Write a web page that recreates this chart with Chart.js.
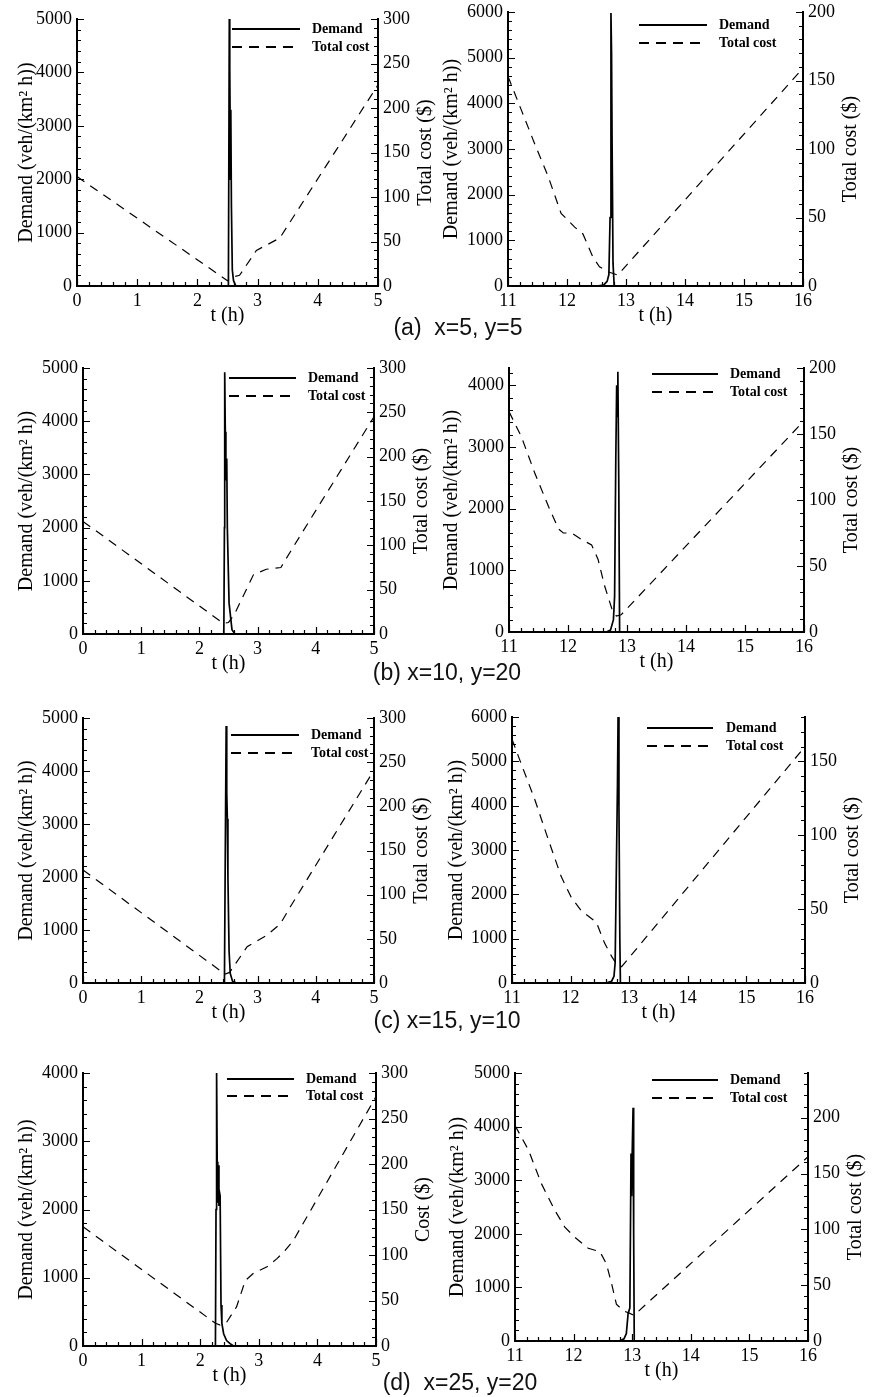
<!DOCTYPE html>
<html lang="en">
<head>
<meta charset="UTF-8">
<title>Demand and total cost</title>
<script src="https://cdn.jsdelivr.net/npm/chart.js"></script>
<style>
    body { margin: 0; background: #fff; }
    #page { position: relative; width: 875px; height: 1397px; overflow: hidden; background: #fff; }
    #page canvas { position: absolute; }
    .caption {
        position: absolute;
        font-family: "Liberation Sans", Arial, sans-serif;
        font-size: 23px;
        color: #111;
        white-space: pre;
        transform: translate(-50%, -50%);
    }
</style>
</head>
<body>
<div id="page"></div>
<script>
// [t (h), value] pairs; demand in veh/(km^2 h), cost in $
const demandA1 = [[0,0],[2.515,0],[2.53,5000],[2.535,3000],[2.54,4100],[2.55,2000],[2.555,3300],[2.565,1500],[2.58,300],[2.6,100],[2.64,0],[5,0]];
const costA1   = [[0,123],[2.5,6],[2.58,10],[2.7,12],[2.98,40],[3.15,46],[3.37,54],[5,226]];

const demandA2 = [[11,0],[12.5,0],[12.62,20],[12.68,100],[12.71,250],[12.73,1500],[12.745,5980],[12.755,5100],[12.765,3000],[12.78,500],[12.8,0],[16,0]];
const costA2   = [[11,153],[11.23,128],[11.45,104],[11.68,80],[11.9,53],[12.13,43],[12.27,38],[12.44,21],[12.55,14],[12.72,10],[12.86,8],[16,159]];

const demandB1 = [[0,0],[2.42,0],[2.43,2000],[2.435,4920],[2.445,3800],[2.455,3300],[2.46,2900],[2.47,3300],[2.48,2000],[2.51,580],[2.56,80],[2.61,0],[5,0]];
const costB1   = [[0,127],[2.41,12],[2.5,13],[2.6,22],[2.93,67],[3.15,73],[3.4,75],[3.62,99],[5,245]];

const demandB2 = [[11,0],[12.65,0],[12.72,30],[12.77,200],[12.79,580],[12.81,2800],[12.825,4000],[12.835,3500],[12.845,4220],[12.86,2500],[12.875,0],[16,0]];
const costB2   = [[11,167],[11.21,148],[11.44,120],[11.67,95],[11.84,78],[11.92,75],[12.06,75],[12.23,70],[12.4,66],[12.51,55],[12.62,35],[12.74,18],[12.82,12],[12.9,13],[16,160]];

const demandC1 = [[0,0],[2.43,0],[2.445,2500],[2.46,4850],[2.47,3600],[2.48,3100],[2.49,2000],[2.51,600],[2.53,180],[2.57,30],[2.64,0],[5,0]];
const costC1   = [[0,128],[2.44,10],[2.52,12],[2.56,16],[2.82,41],[3.16,54],[3.39,67],[3.56,86],[5,241]];

const demandC2 = [[11,0],[12.6,0],[12.7,40],[12.74,150],[12.76,450],[12.78,2500],[12.8,4500],[12.81,6000],[12.825,4000],[12.84,1000],[12.85,0],[16,0]];
const costC2   = [[11,165],[11.16,148],[11.39,124],[11.62,97],[11.84,72],[12.01,58],[12.18,49],[12.44,41],[12.58,27],[12.7,18],[12.78,13],[12.87,11],[16,160]];

const demandD1 = [[0,0],[2.26,0],[2.27,2000],[2.28,4000],[2.29,2700],[2.3,2100],[2.31,2650],[2.32,2050],[2.33,2250],[2.34,2200],[2.355,600],[2.37,330],[2.4,180],[2.45,80],[2.51,35],[2.57,0],[5,0]];
const costD1   = [[0,131],[2.26,25],[2.34,23],[2.45,26],[2.62,43],[2.77,72],[2.91,80],[3.14,87],[3.31,96],[3.45,105],[3.59,116],[5,274]];

const demandD2 = [[11,0],[12.78,0],[12.86,40],[12.9,140],[12.93,510],[12.96,620],[12.98,3500],[12.99,2700],[13.0,3500],[13.015,4350],[13.025,2000],[13.035,0],[16,0]];
const costD2   = [[11,193],[11.23,171],[11.45,141],[11.68,117],[11.85,102],[12.02,93],[12.25,83],[12.45,80],[12.56,69],[12.65,51],[12.73,33],[12.85,27],[12.95,25],[13.03,23],[16,165]];

// tick values (labels are these numbers as written)
const timeTicksEarly = [0, 1, 2, 3, 4, 5];
const timeTicksLate  = [11, 12, 13, 14, 15, 16];
const demandTicks    = [0, 1000, 2000, 3000, 4000, 5000, 6000];
const costTicks      = [0, 50, 100, 150, 200, 250, 300];

const seriesNames = ['Demand', 'Total cost'];
const demandTitle = 'Demand (veh/(km\u00B2 h))';
const timeTitle = 't (h)';
const captions = ['(a)  x=5, y=5', '(b) x=10, y=20', '(c) x=15, y=10', '(d)  x=25, y=20'];

// page layout: plot box (l,t,r,b), axis ranges, legend spots, all in page px
const panels = [
    { demand: demandA1, cost: costA1, l: 77,  t: 19,   r: 378, b: 286,  x: [0, 5],   xt: timeTicksEarly, yMax: 5000, y2Max: 300, costTitle: 'Total cost ($)', ltx: 27,
      lg: { x1: 232, x2: 300, tx: 312, y1: 29, y2: 47 } },
    { demand: demandA2, cost: costA2, l: 508, t: 12,   r: 803, b: 286,  x: [11, 16], xt: timeTicksLate,  yMax: 6000, y2Max: 200, costTitle: 'Total cost ($)', ltx: 452,
      lg: { x1: 639, x2: 707, tx: 719, y1: 25, y2: 43 } },
    { demand: demandB1, cost: costB1, l: 83,  t: 368,  r: 374, b: 634,  x: [0, 5],   xt: timeTicksEarly, yMax: 5000, y2Max: 300, costTitle: 'Total cost ($)', ltx: 27,
      lg: { x1: 229, x2: 296, tx: 308, y1: 378, y2: 396 } },
    { demand: demandB2, cost: costB2, l: 509, t: 368,  r: 804, b: 632,  x: [11, 16], xt: timeTicksLate,  yMax: 4280, y2Max: 200, costTitle: 'Total cost ($)', ltx: 452,
      lg: { x1: 652, x2: 718, tx: 730, y1: 374, y2: 392 } },
    { demand: demandC1, cost: costC1, l: 83,  t: 718,  r: 374, b: 983,  x: [0, 5],   xt: timeTicksEarly, yMax: 5000, y2Max: 300, costTitle: 'Total cost ($)', ltx: 27,
      lg: { x1: 231, x2: 299, tx: 311, y1: 735, y2: 753 } },
    { demand: demandC2, cost: costC2, l: 512, t: 717,  r: 805, b: 983,  x: [11, 16], xt: timeTicksLate,  yMax: 6000, y2Max: 180, costTitle: 'Total cost ($)', ltx: 457,
      lg: { x1: 647, x2: 713, tx: 726, y1: 728, y2: 746 } },
    { demand: demandD1, cost: costD1, l: 83,  t: 1073, r: 376, b: 1346, x: [0, 5],   xt: timeTicksEarly, yMax: 4000, y2Max: 300, costTitle: 'Cost ($)', ltx: 27,
      lg: { x1: 227, x2: 294, tx: 306, y1: 1079, y2: 1096 } },
    { demand: demandD2, cost: costD2, l: 515, t: 1073, r: 808, b: 1341, x: [11, 16], xt: timeTicksLate,  yMax: 5000, y2Max: 240, costTitle: 'Total cost ($)', ltx: 458,
      lg: { x1: 652, x2: 718, tx: 730, y1: 1080, y2: 1098 } }
];
const captionSpots = [[458, 327], [447, 672], [447, 1020], [460, 1382]];

const M = { left: 80, right: 80, top: 20, bottom: 45 };
const SERIF = '"Liberation Serif", "Times New Roman", serif';
const page = document.getElementById('page');

// inward major/minor tick marks, axis titles and the in-plot legend
const panelDecor = {
    id: 'panelDecor',
    afterDraw(chart, args, o) {
        const ctx = chart.ctx;
        const area = chart.chartArea;
        const sx = chart.scales.x, sy = chart.scales.y, sy2 = chart.scales.y2;
        ctx.save();
        ctx.strokeStyle = '#000';
        ctx.lineWidth = 1.2;

        const marks = (scale, step, nMinor, draw) => {
            const minor = step / nMinor;
            const n = Math.floor((scale.max - scale.min) / minor + 1e-6);
            for (let i = 0; i <= n; i++) {
                const v = scale.min + i * minor;
                const major = Math.abs(v / step - Math.round(v / step)) < 1e-6;
                draw(Math.round(scale.getPixelForValue(v)) + 0.5, major ? 7 : 4);
            }
        };
        ctx.beginPath();
        marks(sx, 1, 5, (p, len) => { ctx.moveTo(p, area.bottom); ctx.lineTo(p, area.bottom - len); });
        marks(sy, 1000, 5, (p, len) => { ctx.moveTo(area.left, p); ctx.lineTo(area.left + len, p); });
        marks(sy2, 50, 5, (p, len) => { ctx.moveTo(area.right, p); ctx.lineTo(area.right - len, p); });
        ctx.stroke();

        // axis titles
        ctx.fillStyle = '#000';
        ctx.font = '20px ' + SERIF;
        ctx.textAlign = 'center';
        ctx.textBaseline = 'middle';
        const midY = (area.top + area.bottom) / 2;
        ctx.fillText(timeTitle, (area.left + area.right) / 2, area.bottom + 30);
        ctx.save();
        ctx.translate(o.leftTitleX, midY);
        ctx.rotate(-Math.PI / 2);
        ctx.fillText(demandTitle, 0, 0);
        ctx.restore();
        ctx.save();
        ctx.translate(area.right + 48, midY);
        ctx.rotate(-Math.PI / 2);
        ctx.fillText(o.costTitle, 0, 0);
        ctx.restore();

        // legend
        const lg = o.legend;
        ctx.lineWidth = 2;
        ctx.beginPath();
        ctx.moveTo(lg.x1, lg.y1); ctx.lineTo(lg.x2, lg.y1);
        ctx.stroke();
        ctx.setLineDash([10, 7]);
        ctx.beginPath();
        ctx.moveTo(lg.x1, lg.y2); ctx.lineTo(lg.x2, lg.y2);
        ctx.stroke();
        ctx.setLineDash([]);
        ctx.font = 'bold 14px ' + SERIF;
        ctx.textAlign = 'left';
        ctx.fillText(seriesNames[0], lg.tx, lg.y1);
        ctx.fillText(seriesNames[1], lg.tx, lg.y2);
        ctx.restore();
    }
};

// put the ticks exactly on the listed values that fall inside the range
function useTicks(values) {
    return scale => {
        scale.ticks = values
            .filter(v => v >= scale.min - 1e-9 && v <= scale.max + 1e-9)
            .map(v => ({ value: v }));
    };
}

function tickOpts(pad) {
    return {
        padding: pad,
        color: '#000',
        font: { family: SERIF, size: 18 },
        maxRotation: 0,
        autoSkip: false,
        callback: v => String(v)
    };
}

function drawPanel(p) {
    const ox = p.l - M.left, oy = p.t - M.top;
    const cv = document.createElement('canvas');
    cv.width = p.r - p.l + M.left + M.right;
    cv.height = p.b - p.t + M.top + M.bottom;
    cv.style.left = ox + 'px';
    cv.style.top = oy + 'px';
    page.appendChild(cv);

    const lg = p.lg;
    new Chart(cv, {
        type: 'line',
        data: {
            datasets: [
                {
                    label: seriesNames[0],
                    data: p.demand.map(([t, v]) => ({ x: t, y: v })),
                    yAxisID: 'y',
                    borderColor: '#000',
                    borderWidth: 1.7,
                    pointRadius: 0,
                    tension: 0
                },
                {
                    label: seriesNames[1],
                    data: p.cost.map(([t, v]) => ({ x: t, y: v })),
                    yAxisID: 'y2',
                    borderColor: '#000',
                    borderWidth: 1.2,
                    borderDash: [9, 7],
                    pointRadius: 0,
                    tension: 0
                }
            ]
        },
        options: {
            responsive: false,
            animation: false,
            devicePixelRatio: 1,
            layout: { padding: { top: M.top, left: 0, right: 0, bottom: 0 } },
            plugins: {
                legend: { display: false },
                tooltip: { enabled: false },
                panelDecor: {
                    leftTitleX: p.ltx - ox,
                    costTitle: p.costTitle,
                    legend: { x1: lg.x1 - ox, x2: lg.x2 - ox, tx: lg.tx - ox, y1: lg.y1 - oy, y2: lg.y2 - oy }
                }
            },
            scales: {
                x: {
                    type: 'linear',
                    min: p.x[0],
                    max: p.x[1],
                    grid: { display: false, drawTicks: false },
                    border: { color: '#000', width: 2 },
                    ticks: tickOpts(4),
                    afterBuildTicks: useTicks(p.xt),
                    afterFit: s => { s.height = M.bottom; }
                },
                y: {
                    type: 'linear',
                    position: 'left',
                    min: 0,
                    max: p.yMax,
                    grid: { display: false, drawTicks: false },
                    border: { color: '#000', width: 2 },
                    ticks: tickOpts(5),
                    afterBuildTicks: useTicks(demandTicks),
                    afterFit: s => { s.width = M.left; }
                },
                y2: {
                    type: 'linear',
                    position: 'right',
                    min: 0,
                    max: p.y2Max,
                    grid: { display: false, drawTicks: false },
                    border: { color: '#000', width: 2 },
                    ticks: tickOpts(5),
                    afterBuildTicks: useTicks(costTicks),
                    afterFit: s => { s.width = M.right; }
                }
            }
        },
        plugins: [panelDecor]
    });
}

panels.forEach(drawPanel);

captions.forEach((text, i) => {
    const d = document.createElement('div');
    d.className = 'caption';
    d.textContent = text;
    d.style.left = captionSpots[i][0] + 'px';
    d.style.top = captionSpots[i][1] + 'px';
    page.appendChild(d);
});
</script>
</body>
</html>
